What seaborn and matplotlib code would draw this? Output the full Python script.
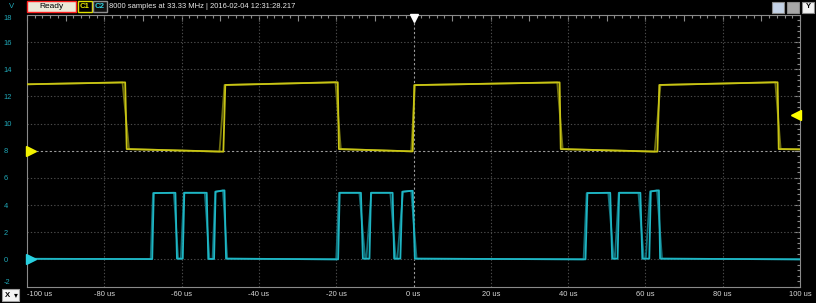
import numpy as np
import pandas as pd
import matplotlib
matplotlib.use("Agg")
import matplotlib.pyplot as plt
import seaborn as sns
from matplotlib.patches import Rectangle
from matplotlib.ticker import MultipleLocator, FixedLocator

# ---------------- data ----------------
c1_time = [-100, -74.6, -74.2, -49.2, -48.7, -19.6, -19.3, -0.2, 0.2,
           37.8, 38.1, 63.1, 63.6, 94.2, 94.5, 100]
c1_volt = [12.89, 13.03, 8.12, 7.93, 12.84, 13.04, 8.12, 7.95, 12.83,
           13.03, 8.12, 7.93, 12.84, 13.04, 8.12, 8.10]
# persistence (older acquisitions) edges for C1
c1_ghost_time = [-100, -75.3, -73.6, -50.2, -48.9, -20.2, -18.8, -0.6, 0.4,
                 37.2, 38.6, 62.4, 63.9, 93.6, 95.0, 100]

c2_time = [-100, -67.6, -67.2, -61.6, -61.2, -59.7, -59.3, -53.5, -53.1,
           -51.6, -51.2, -48.9, -48.5, -19.5, -19.1, -13.6, -13.1, -11.4,
           -11.0, -5.4, -5.0, -3.4, -2.9, -0.2, 0.35, 44.5, 45.0, 50.9,
           51.4, 52.8, 53.2, 58.7, 59.2, 61.0, 61.4, 63.5, 63.8, 100]
c2_volt = [0.04, 0.02, 4.88, 4.90, 0.05, 0.05, 4.90, 4.90, 0.03,
           0.03, 4.98, 5.08, 0.05, 0.00, 4.90, 4.90, 0.05, 0.05,
           4.90, 4.90, 0.05, 0.05, 4.98, 5.05, 0.05, 0.00, 4.88, 4.90,
           0.05, 0.05, 4.90, 4.90, 0.05, 0.05, 5.00, 5.08, 0.05, 0.00]
# persistence (older acquisitions) edges for C2
c2_ghost_time = [-100, -68.0, -67.4, -62.0, -60.9, -60.2, -59.4, -54.0, -52.8,
                 -52.0, -51.3, -49.3, -48.2, -20.0, -19.3, -14.0, -12.5, -12.2,
                 -10.9, -6.0, -4.6, -4.2, -2.7, -0.6, 0.8, 44.0, 44.8, 50.4,
                 51.8, 52.1, 53.1, 58.2, 59.6, 60.1, 61.2, 63.0, 64.3, 100]

x_ticks = [-100, -80, -60, -40, -20, 0, 20, 40, 60, 80, 100]
x_labels = ["-100 us", "-80 us", "-60 us", "-40 us", "-20 us", "0 us",
            "20 us", "40 us", "60 us", "80 us", "100 us"]
y_ticks = [-2, 0, 2, 4, 6, 8, 10, 12, 14, 16, 18]
y_labels = ["-2", "0", "2", "4", "6", "8", "10", "12", "14", "16", "18"]

status_text = "8000 samples at 33.33 MHz | 2016-02-04 12:31:28.217"
c1_offset = 8
c2_offset = 0
trigger_level = 10.6

# ---------------- styling ----------------
sns.set_theme(style="dark")
plt.rcParams['font.family'] = ['Liberation Sans', 'DejaVu Sans']

W, H = 816, 303
YEL = '#c8c414'
YEL_GHOST = '#707010'
CYA = '#1eb6c4'
CYA_GHOST = '#13707a'
LABEL_CYAN = '#20a8b8'

fig = plt.figure(figsize=(W / 100, H / 100), dpi=100, facecolor='black')
ax = fig.add_axes([27 / W, 1 - 286.5 / H, 773 / W, 271.6 / H])
ax.set_facecolor('black')

# grid
for gx in range(-80, 100, 20):
    if gx == 0:
        ax.axvline(gx, color='#9a9a9a', lw=0.8, ls=(0, (2, 2)), zorder=1)
    else:
        ax.axvline(gx, color='#4a4a4a', lw=0.8, ls=(0, (1.2, 1.8)), zorder=1)
for gy in range(0, 18, 2):
    if gy == c1_offset:
        ax.axhline(gy, color='#9a9a9a', lw=0.8, ls=(0, (2, 2)), zorder=1)
    else:
        ax.axhline(gy, color='#4a4a4a', lw=0.8, ls=(0, (1.2, 1.8)), zorder=1)

df1g = pd.DataFrame({'t': c1_ghost_time, 'v': c1_volt})
df2g = pd.DataFrame({'t': c2_ghost_time, 'v': c2_volt})
df1 = pd.DataFrame({'t': c1_time, 'v': c1_volt})
df2 = pd.DataFrame({'t': c2_time, 'v': c2_volt})
sns.lineplot(data=df1g, x='t', y='v', ax=ax, color=YEL_GHOST, lw=1.3,
             sort=False, estimator=None, zorder=2)
sns.lineplot(data=df2g, x='t', y='v', ax=ax, color=CYA_GHOST, lw=1.3,
             sort=False, estimator=None, zorder=2)
sns.lineplot(data=df1, x='t', y='v', ax=ax, color=YEL, lw=1.3,
             sort=False, estimator=None, zorder=3)
sns.lineplot(data=df2, x='t', y='v', ax=ax, color=CYA, lw=1.3,
             sort=False, estimator=None, zorder=3)

ax.set_xlim(-100, 100)
ax.set_ylim(-2, 18)
ax.set_xlabel('')
ax.set_ylabel('')

# ticks
ax.xaxis.set_major_locator(FixedLocator(list(range(-100, 101, 10))))
ax.set_xticklabels([x_labels[x_ticks.index(v)] if v in x_ticks else ''
                    for v in range(-100, 101, 10)])
ax.xaxis.set_minor_locator(MultipleLocator(2))
ax.set_yticks(y_ticks)
ax.set_yticklabels(y_labels)
ax.yaxis.set_minor_locator(MultipleLocator(0.4))
ax.tick_params(which='both', direction='in', top=True, right=True,
               color='#8a8a8a', width=0.8)
ax.tick_params(which='major', length=4)
ax.tick_params(which='minor', length=2)
ax.tick_params(axis='x', labelcolor='#d8d8d8', labelsize=5.4, pad=3.5)
ax.tick_params(axis='y', labelcolor=LABEL_CYAN, labelsize=5.4, pad=17)
ylabs = ax.get_yticklabels()
for lab in ylabs:
    lab.set_ha('left')
ylabs[-1].set_va('top')
ylabs[0].set_va('bottom')
ax.get_xticklabels()[0].set_ha('left')
for s in ax.spines.values():
    s.set_color('#8a8a8a')
    s.set_linewidth(0.8)
ax.grid(False)

# channel markers
ax.plot([-99], [c1_offset], marker='>', ms=7, color='#f2f200', clip_on=False, zorder=5, lw=0)
ax.plot([-99], [c2_offset], marker='>', ms=7, color='#28d0e0', clip_on=False, zorder=5, lw=0)
ax.plot([99], [trigger_level], marker='<', ms=6.5, color='#ffff00', clip_on=False, zorder=5, lw=0)
ax.plot([0], [17.8], marker='v', ms=6, color='white', clip_on=False, zorder=5, lw=0)


# ---------------- toolbar / status ----------------
def rect(x, y, w, h, fc, ec, lw=1.0):
    fig.add_artist(Rectangle((x / W, 1 - (y + h) / H), w / W, h / H,
                             transform=fig.transFigure, facecolor=fc,
                             edgecolor=ec, lw=lw))


def txt(x, y, s, color, size=5.6, ha='left', weight='normal'):
    fig.text(x / W, 1 - y / H, s, color=color, fontsize=size, ha=ha,
             va='center', weight=weight)


txt(12, 6.5, 'V', LABEL_CYAN, ha='center')
rect(27, 1, 49, 11, '#ece9d8', '#ff2020', 1.0)
txt(51.5, 6.8, 'Ready', 'black', size=6, ha='center')
rect(78, 1, 14, 11, '#000000', '#e0e000', 1.0)
txt(85, 6.8, 'C1', '#e8e800', size=5.6, ha='center', weight='bold')
rect(93, 1, 14, 11, '#101010', '#909090', 1.0)
txt(100, 6.8, 'C2', '#30d0e0', size=5.6, ha='center', weight='bold')
txt(109, 6.8, status_text, '#e8e8e8', size=5.5)

rect(772, 1.5, 12, 11, '#c4d2e6', '#8a8a8a', 0.8)
rect(787, 1.5, 12, 11, '#a8a8a8', '#8a8a8a', 0.8)
rect(802, 1.5, 12, 11, '#f2f2f2', '#8a8a8a', 0.8)
txt(808, 7, 'Y', 'black', size=5.6, ha='center', weight='bold')

rect(2, 289, 17, 12, '#f4f4f4', '#a0a0a0', 0.8)
txt(7, 295.5, 'X', 'black', size=5.6, ha='center', weight='bold')
txt(15.5, 295.5, '\u25BE', 'black', size=5.6, ha='center')

fig.savefig('out.png', dpi=100, facecolor='black')
